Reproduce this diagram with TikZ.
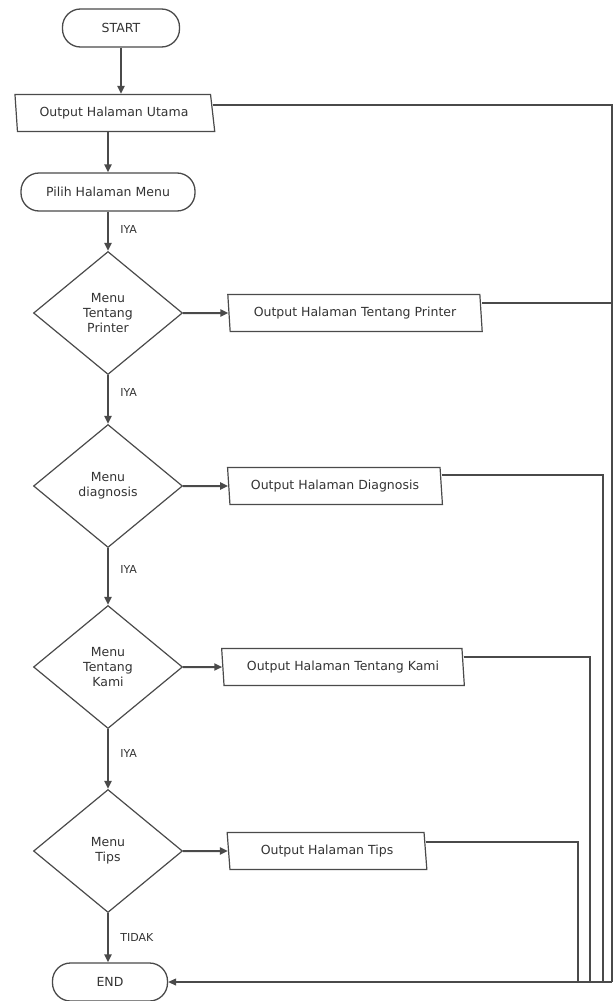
\documentclass[tikz,border=0pt]{standalone}
\usepackage{fontspec}
\setmainfont{DejaVu Sans}
\usetikzlibrary{shapes.geometric,arrows.meta,calc}
\definecolor{garis}{HTML}{4A4A4A}
\definecolor{tulisan}{HTML}{333333}

\begin{document}
\begin{tikzpicture}[x=1pt,y=-1pt,
    font=\fontsize{12.5}{15}\selectfont, text=tulisan,
    terminal/.style={draw=garis,line width=1.3pt,rounded corners=18pt,minimum height=38pt,inner sep=0pt},
    keluaran/.style={draw=garis,line width=1.2pt,trapezium,trapezium stretches=true,
        trapezium left angle=99,trapezium right angle=81,minimum height=37pt,inner sep=0pt},
    pilihan/.style={draw=garis,line width=1.2pt,diamond,align=center,inner sep=0pt,
        minimum width=149pt,minimum height=123pt},
    alur/.style={draw=garis,line width=2pt,-{Triangle[length=8pt,width=7pt]}},
    balik/.style={draw=garis,line width=1.1pt},
    ket/.style={font=\fontsize{11}{13}\selectfont,anchor=west,xshift=8pt}]
    \useasboundingbox (0,0) rectangle (614,1001);

    \node[terminal,minimum width=117pt] (start) at (121,28) {START};
    \node[keluaran,minimum width=200pt,trapezium right angle=75] (utama) at (114,113) {Output Halaman Utama};
    \node[terminal,minimum width=174pt] (pilih) at (108,192) {Pilih Halaman Menu};
    \node[pilihan] (d1) at (108,313) {Menu\\Tentang\\Printer};
    \node[keluaran,minimum width=255pt] (otp) at (355,313) {Output Halaman Tentang Printer};
    \node[pilihan] (d2) at (108,486) {Menu\\diagnosis};
    \node[keluaran,minimum width=215pt] (odiag) at (335,486) {Output Halaman Diagnosis};
    \node[pilihan] (d3) at (108,667) {Menu\\Tentang\\Kami};
    \node[keluaran,minimum width=243pt] (okami) at (343,667) {Output Halaman Tentang Kami};
    \node[pilihan] (d4) at (108,851) {Menu\\Tips};
    \node[keluaran,minimum width=200pt] (otips) at (327,851) {Output Halaman Tips};
    \node[terminal,minimum width=115pt] (end) at (110,982) {END};

    \coordinate (b1) at (578,982);
    \coordinate (b2) at (590,982);
    \coordinate (b3) at (603,982);
    \coordinate (b4) at (612,982);

    \draw[alur] (start) -- (start |- utama.north);
    \draw[alur] (utama.south -| pilih) -- (pilih);
    \draw[alur] (pilih) -- node[ket,pos=0.45] (l1) {IYA} (d1);
    \draw[alur] (d1) -- node[ket,pos=0.35] (l2) {IYA} (d2);
    \draw[alur] (d2) -- node[ket,pos=0.38] (l3) {IYA} (d3);
    \draw[alur] (d3) -- node[ket,pos=0.4] (l4) {IYA} (d4);
    \draw[alur] (d4) -- node[ket,pos=0.5] (l5) {TIDAK} (d4 |- end.north);

    \draw[alur] (d1) -- (otp);
    \draw[alur] (d2) -- (odiag);
    \draw[alur] (d3) -- (okami);
    \draw[alur] (d4) -- (otips);

    \draw[balik] ([yshift=8pt]utama.east) -| (b4);
    \draw[balik] ([yshift=10pt]otp.east) -| (b4);
    \draw[balik] ([yshift=11pt]odiag.east) -| (b3);
    \draw[balik] ([yshift=10pt]okami.east) -| (b2);
    \draw[balik] ([yshift=9pt]otips.east) -| (b1);
    \draw[balik,-{Triangle[length=8pt,width=7pt]}] (b4) -- (end);
\end{tikzpicture}
\end{document}
